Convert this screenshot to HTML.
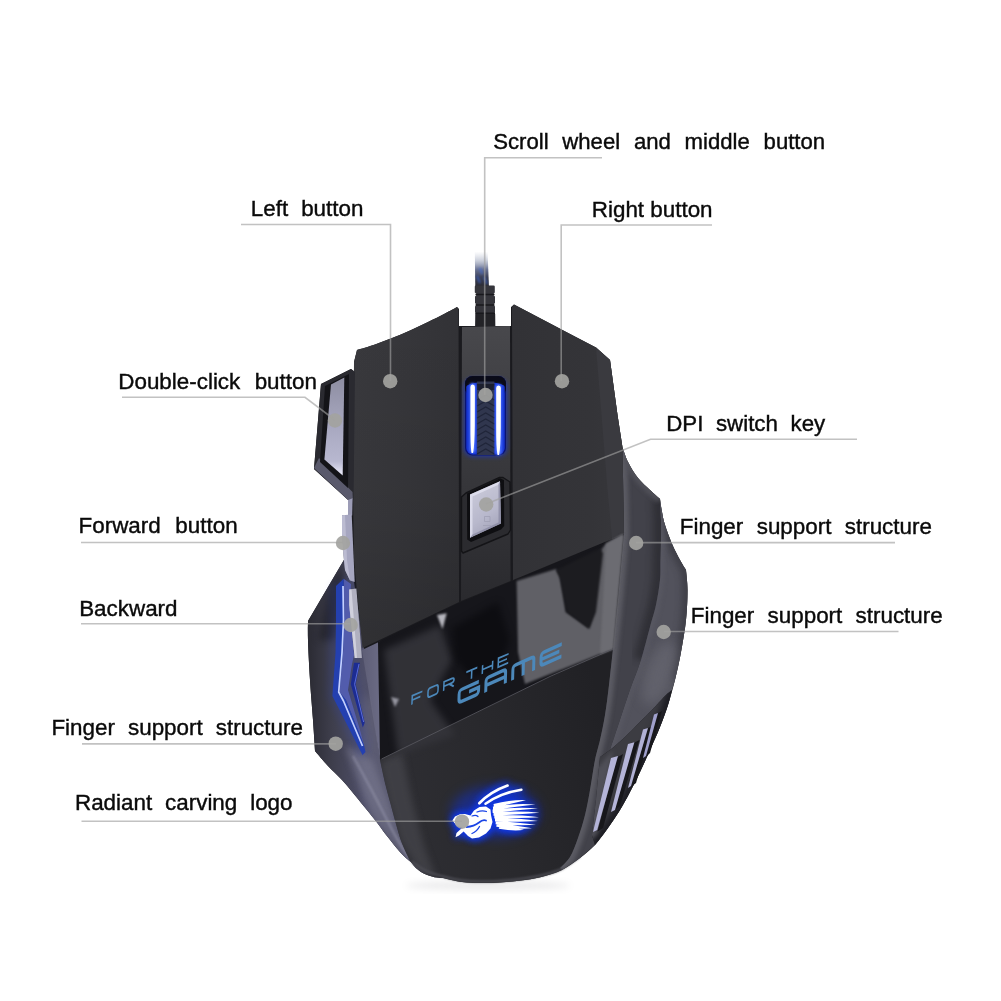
<!DOCTYPE html>
<html>
<head>
<meta charset="utf-8">
<title>Mouse</title>
<style>
html,body{margin:0;padding:0;background:#fff;}
body{width:1001px;height:1001px;overflow:hidden;position:relative;font-family:"Liberation Sans",sans-serif;}
svg{position:absolute;left:0;top:0;}
.lbl{font-family:"Liberation Sans",sans-serif;font-size:22.4px;fill:#0a0a0a;word-spacing:7.6px;stroke:#0a0a0a;stroke-width:0.4px;}
.ln{fill:none;stroke:#a0a0a0;stroke-width:1.6;opacity:0.64;}
.dot{fill:#a3a3a0;opacity:0.92;}
</style>
</head>
<body>
<svg width="1001" height="1001" viewBox="0 0 1001 1001">
<defs>
<filter color-interpolation-filters="sRGB" id="soft" x="-5%" y="-5%" width="110%" height="110%"><feGaussianBlur stdDeviation="0.6"/></filter>
<filter color-interpolation-filters="sRGB" id="tsoft" x="-2%" y="-20%" width="104%" height="140%"><feGaussianBlur stdDeviation="0.3"/></filter>
<filter color-interpolation-filters="sRGB" id="b1" x="-40%" y="-40%" width="180%" height="180%"><feGaussianBlur stdDeviation="1"/></filter>
<filter color-interpolation-filters="sRGB" id="b2" x="-40%" y="-40%" width="180%" height="180%"><feGaussianBlur stdDeviation="2"/></filter>
<filter color-interpolation-filters="sRGB" id="b3" x="-40%" y="-40%" width="180%" height="180%"><feGaussianBlur stdDeviation="3.5"/></filter>
<filter color-interpolation-filters="sRGB" id="b6" x="-40%" y="-40%" width="180%" height="180%"><feGaussianBlur stdDeviation="6"/></filter>
<linearGradient id="gCable" x1="0" y1="250" x2="0" y2="330" gradientUnits="userSpaceOnUse">
<stop offset="0.02" stop-color="#a0a8c0" stop-opacity="0"/><stop offset="0.13" stop-color="#8c96b0" stop-opacity="0.45"/><stop offset="0.24" stop-color="#5a6488" stop-opacity="0.9"/><stop offset="0.34" stop-color="#3c4056"/><stop offset="0.45" stop-color="#2c2c34"/><stop offset="1" stop-color="#222228"/>
</linearGradient>
<linearGradient id="gLeftBtn" x1="354" y1="0" x2="460" y2="0" gradientUnits="userSpaceOnUse">
<stop offset="0" stop-color="#39393d"/><stop offset="0.5" stop-color="#36363a"/><stop offset="1" stop-color="#323236"/>
</linearGradient>
<linearGradient id="gLeftBtnV" x1="0" y1="310" x2="0" y2="650" gradientUnits="userSpaceOnUse">
<stop offset="0" stop-color="#000" stop-opacity="0"/><stop offset="0.6" stop-color="#000" stop-opacity="0.05"/><stop offset="1" stop-color="#000" stop-opacity="0.16"/>
</linearGradient>
<linearGradient id="gRightBtn" x1="512" y1="0" x2="625" y2="0" gradientUnits="userSpaceOnUse">
<stop offset="0" stop-color="#323236"/><stop offset="0.7" stop-color="#343438"/><stop offset="1" stop-color="#37373b"/>
</linearGradient>
<linearGradient id="gMid" x1="0" y1="326" x2="0" y2="600" gradientUnits="userSpaceOnUse">
<stop offset="0" stop-color="#48484c"/><stop offset="0.3" stop-color="#3e3e42"/><stop offset="1" stop-color="#2a2a2e"/>
</linearGradient>
<linearGradient id="gSilver" x1="0" y1="378" x2="0" y2="476" gradientUnits="userSpaceOnUse">
<stop offset="0" stop-color="#8e8ea2"/><stop offset="0.5" stop-color="#a8a8c0"/><stop offset="0.85" stop-color="#b8b8d0"/><stop offset="1" stop-color="#f0f0ff"/>
</linearGradient>
<linearGradient id="gDpi" x1="470" y1="494" x2="501" y2="538" gradientUnits="userSpaceOnUse">
<stop offset="0" stop-color="#c8c8d8"/><stop offset="0.5" stop-color="#b8b8cc"/><stop offset="1" stop-color="#9a9ab0"/>
</linearGradient>
<linearGradient id="gLeftBody" x1="307" y1="0" x2="390" y2="0" gradientUnits="userSpaceOnUse">
<stop offset="0" stop-color="#2a2a32"/><stop offset="0.3" stop-color="#3e3e4c"/><stop offset="0.7" stop-color="#50506a"/><stop offset="1" stop-color="#44445a"/>
</linearGradient>
<linearGradient id="gFacet" x1="362" y1="0" x2="398" y2="0" gradientUnits="userSpaceOnUse">
<stop offset="0" stop-color="#5e5e76"/><stop offset="0.55" stop-color="#6c6c86"/><stop offset="0.85" stop-color="#50505e"/><stop offset="1" stop-color="#2a2a34"/>
</linearGradient>
<linearGradient id="gFs1" x1="620" y1="0" x2="665" y2="0" gradientUnits="userSpaceOnUse">
<stop offset="0" stop-color="#4a4a52"/><stop offset="0.5" stop-color="#55555e"/><stop offset="1" stop-color="#3a3a42"/>
</linearGradient>
<linearGradient id="gFs2" x1="655" y1="0" x2="690" y2="0" gradientUnits="userSpaceOnUse">
<stop offset="0" stop-color="#4a4a54"/><stop offset="0.6" stop-color="#64646e"/><stop offset="1" stop-color="#505058"/>
</linearGradient>
<linearGradient id="gPalm" x1="380" y1="760" x2="600" y2="700" gradientUnits="userSpaceOnUse">
<stop offset="0" stop-color="#2e2e33"/><stop offset="0.45" stop-color="#29292d"/><stop offset="1" stop-color="#212125"/>
</linearGradient>
<linearGradient id="gStripe" x1="0" y1="0" x2="1" y2="0">
<stop offset="0" stop-color="#6a6ac0"/><stop offset="0.5" stop-color="#e0e0f8"/><stop offset="1" stop-color="#8080c8"/>
</linearGradient>
<filter color-interpolation-filters="sRGB" id="glow" x="-40%" y="-60%" width="180%" height="220%">
<feGaussianBlur in="SourceAlpha" stdDeviation="4" result="b"/>
<feFlood flood-color="#1038e8"/><feComposite in2="b" operator="in" result="g"/>
<feMerge><feMergeNode in="g"/><feMergeNode in="g"/><feMergeNode in="g"/><feMergeNode in="SourceGraphic"/></feMerge>
</filter>
</defs>

<rect width="1001" height="1001" fill="#fff"/>

<!-- shadow -->
<ellipse cx="488" cy="885.5" rx="82" ry="4.5" fill="#808088" opacity="0.16" filter="url(#b3)"/>
<!-- ================= MOUSE ================= -->
<g id="mouse" filter="url(#soft)">
<!-- cable -->
<path d="M474.8 250 L487.5 250 L489 288 L475.3 288 Z" fill="url(#gCable)" filter="url(#tsoft)"/>
<path d="M477 276 L480 283 M484 277 L487 284 M480 268 L482 274" stroke="#3a6ae0" stroke-width="2" opacity="0.6" filter="url(#b1)" fill="none"/>
<path fill="#35353b" d="M474.8 286.5 Q474.8 285.5 476 285.5 L493.5 285.5 Q494.8 285.5 494.8 286.5 L494.8 292.5 L493.8 293.5 L493.8 295.5 L495 296.5 L495 303 L494 304 L494 305.5 L495 306.5 L495 312 L494.6 313 L495.2 314 L495.4 327 L475 327 L475.2 314 L475.6 313 L475 312 L475 306.5 L476 305.5 L476 304 L475 303 L475 296.5 L476.2 295.5 L476.2 293.5 L474.8 292.5 Z"/>
<path d="M475.5 294.5 H494.5 M475.5 305 H494.5 M475.5 313.2 H495" stroke="#18181c" stroke-width="1.6" fill="none"/>
<rect x="476" y="314" width="19" height="13" fill="#232327"/>
<path d="M483 313.5 h4" stroke="#2a50c0" stroke-width="2" opacity="0.8" filter="url(#b1)"/>
<!-- base silhouette -->
<path id="sil" fill="#1a1a1e" d="M357.0 350.0 C360.0 349.1 369.2 346.5 375.0 344.5 C380.8 342.5 386.2 340.3 392.0 338.0 C397.8 335.7 404.0 333.2 410.0 330.5 C416.0 327.8 422.2 324.8 428.0 322.0 C433.8 319.2 440.2 316.0 445.0 313.5 C449.8 311.0 455.0 308.1 457.0 307.0 L459 309 L459 326 L511 326 L511 307 L514 304.5 L596 347.5 L610 360 L617.5 415 L622.5 447.5 C623.4 449.9 625.4 456.9 628.0 462.0 C630.6 467.1 634.3 473.3 638.0 478.0 C641.7 482.7 646.3 486.5 650.0 490.0 C653.7 493.5 658.3 497.5 660.0 499.0 C660.3 501.2 661.2 507.7 662.0 512.0 C662.8 516.3 663.2 519.5 665.0 525.0 C666.8 530.5 670.0 539.2 672.5 545.0 C675.0 550.8 677.8 555.8 680.0 560.0 C682.2 564.2 685.0 568.3 686.0 570.0 C686.2 573.3 687.5 581.7 687.5 590.0 C687.5 598.3 687.1 609.7 686.0 620.0 C684.9 630.3 682.8 642.0 681.0 652.0 C679.2 662.0 677.2 671.2 675.0 680.0 C672.8 688.8 670.5 697.2 668.0 705.0 C665.5 712.8 663.0 719.5 660.0 727.0 C657.0 734.5 653.3 742.5 650.0 750.0 C646.7 757.5 643.3 765.0 640.0 772.0 C636.7 779.0 633.3 785.7 630.0 792.0 C626.7 798.3 623.7 804.0 620.0 810.0 C616.3 816.0 612.2 822.2 608.0 828.0 C603.8 833.8 599.7 840.0 595.0 845.0 C590.3 850.0 585.5 853.8 580.0 858.0 C574.5 862.2 567.8 867.0 562.0 870.0 C556.2 873.0 551.2 874.3 545.0 876.0 C538.8 877.7 532.5 878.9 525.0 880.0 C517.5 881.1 507.5 882.0 500.0 882.5 C492.5 883.0 486.3 883.1 480.0 883.0 C473.7 882.9 468.2 882.8 462.0 882.0 C455.8 881.2 449.2 879.7 443.0 878.0 C436.8 876.3 430.2 874.5 425.0 872.0 C419.8 869.5 416.2 866.3 412.0 863.0 C407.8 859.7 404.2 856.5 400.0 852.0 C395.8 847.5 391.2 841.3 387.0 836.0 C382.8 830.7 379.8 826.2 375.0 820.0 C370.2 813.8 363.5 805.7 358.0 799.0 C352.5 792.3 347.0 785.5 342.0 780.0 C337.0 774.5 332.5 770.8 328.0 766.0 C323.5 761.2 317.2 753.5 315.0 751.0 C314.7 745.8 313.8 731.8 313.0 720.0 C312.2 708.2 310.8 693.3 310.0 680.0 C309.2 666.7 308.3 649.8 308.0 640.0 C307.7 630.2 308.0 624.2 308.0 621.0 L344 560 L342.5 534 L342 515.5 L348 515 L348 500 L314 469 L321 384 L351 369 L355 372 L354 362 Z"/>

<!-- left side body -->
<path fill="url(#gLeftBody)" d="M345 558 L308 621 C308.0 624.2 307.7 630.2 308.0 640.0 C308.3 649.8 309.2 666.7 310.0 680.0 C310.8 693.3 312.2 708.2 313.0 720.0 C313.8 731.8 314.7 745.8 315.0 751.0 C317.2 753.5 323.5 761.2 328.0 766.0 C332.5 770.8 337.0 774.5 342.0 780.0 C347.0 785.5 352.5 792.3 358.0 799.0 C363.5 805.7 370.2 813.8 375.0 820.0 C379.8 826.2 382.8 830.7 387.0 836.0 C391.2 841.3 395.8 847.5 400.0 852.0 C404.2 856.5 407.8 859.7 412.0 863.0 C416.2 866.3 419.8 869.5 425.0 872.0 C430.2 874.5 440.0 877.0 443.0 878.0 L440 878 C438.7 877.8 435.2 877.5 432.0 876.5 C428.8 875.5 424.5 874.4 421.0 872.0 C417.5 869.6 414.2 866.8 411.0 862.0 C407.8 857.2 404.5 849.8 402.0 843.5 C399.5 837.2 397.9 830.5 396.0 824.0 C394.1 817.5 392.4 811.0 390.7 804.5 C388.9 798.0 387.3 792.4 385.5 785.0 C383.7 777.6 380.9 764.2 380.0 760.0 L364 648 L354 582 Z"/>
<!-- facet between LED and glossy -->
<path fill="url(#gFacet)" d="M362 650 L381 641 L398 746 L380 760 Z"/>
<!-- glossy panel -->
<path fill="#16161b" d="M378 642 L459 603 L513 581 L624 534 L618 600 L613 649 L550 677 L380 760 Z"/>
<!-- palm panel -->
<path fill="url(#gPalm)" d="M380 760 L550 677 L613 649 C612.3 655.0 610.3 674.0 609.0 685.0 C607.7 696.0 606.5 705.8 605.0 715.0 C603.5 724.2 601.7 732.5 600.0 740.0 C598.3 747.5 596.7 751.7 595.0 760.0 C593.3 768.3 591.7 780.8 590.0 790.0 C588.3 799.2 587.0 807.0 585.0 815.0 C583.0 823.0 580.5 831.0 578.0 838.0 C575.5 845.0 573.0 852.0 570.0 857.0 C567.0 862.0 561.7 866.2 560.0 868.0 L562 870 C559.2 871.0 551.2 874.3 545.0 876.0 C538.8 877.7 532.5 878.9 525.0 880.0 C517.5 881.1 507.5 882.0 500.0 882.5 C492.5 883.0 486.3 883.1 480.0 883.0 C473.7 882.9 468.2 882.8 462.0 882.0 C455.8 881.2 446.2 878.7 443.0 878.0 L440 878 C438.7 877.8 435.2 877.5 432.0 876.5 C428.8 875.5 424.5 874.4 421.0 872.0 C417.5 869.6 414.2 866.8 411.0 862.0 C407.8 857.2 404.5 849.8 402.0 843.5 C399.5 837.2 397.9 830.5 396.0 824.0 C394.1 817.5 392.4 811.0 390.7 804.5 C388.9 798.0 387.3 792.4 385.5 785.0 C383.7 777.6 380.9 764.2 380.0 760.0 Z"/>
<clipPath id="cPalm"><path d="M380 760 L550 677 L613 649 C612.3 655.0 610.3 674.0 609.0 685.0 C607.7 696.0 606.5 705.8 605.0 715.0 C603.5 724.2 601.7 732.5 600.0 740.0 C598.3 747.5 596.7 751.7 595.0 760.0 C593.3 768.3 591.7 780.8 590.0 790.0 C588.3 799.2 587.0 807.0 585.0 815.0 C583.0 823.0 580.5 831.0 578.0 838.0 C575.5 845.0 573.0 852.0 570.0 857.0 C567.0 862.0 561.7 866.2 560.0 868.0 L562 870 C559.2 871.0 551.2 874.3 545.0 876.0 C538.8 877.7 532.5 878.9 525.0 880.0 C517.5 881.1 507.5 882.0 500.0 882.5 C492.5 883.0 486.3 883.1 480.0 883.0 C473.7 882.9 468.2 882.8 462.0 882.0 C455.8 881.2 446.2 878.7 443.0 878.0 L440 878 C438.7 877.8 435.2 877.5 432.0 876.5 C428.8 875.5 424.5 874.4 421.0 872.0 C417.5 869.6 414.2 866.8 411.0 862.0 C407.8 857.2 404.5 849.8 402.0 843.5 C399.5 837.2 397.9 830.5 396.0 824.0 C394.1 817.5 392.4 811.0 390.7 804.5 C388.9 798.0 387.3 792.4 385.5 785.0 C383.7 777.6 380.9 764.2 380.0 760.0 Z"/></clipPath>
<g clip-path="url(#cPalm)"><path filter="url(#b3)" fill="#45454b" opacity="0.75" d="M380 762 L402 752 L412 800 L424 846 L436 878 L420 874 L400 840 L388 800 Z"/></g>
<path d="M580.0 856.4 C577.0 858.4 567.8 865.4 562.0 868.4 C556.2 871.4 551.2 872.7 545.0 874.4 C538.8 876.1 532.5 877.3 525.0 878.4 C517.5 879.5 507.5 880.4 500.0 880.9 C492.5 881.4 486.3 881.5 480.0 881.4 C473.7 881.3 468.2 881.2 462.0 880.4 C455.8 879.6 449.2 878.1 443.0 876.4 C436.8 874.7 430.2 872.9 425.0 870.4 C419.8 867.9 414.2 862.9 412.0 861.4" fill="none" stroke="#505058" stroke-width="2.2" opacity="0.85" filter="url(#b1)"/>
<!-- right finger support 1 -->
<clipPath id="cFs1"><path d="M622.5 447.5 C623.4 449.9 625.4 456.9 628.0 462.0 C630.6 467.1 634.3 473.3 638.0 478.0 C641.7 482.7 646.3 486.5 650.0 490.0 C653.7 493.5 658.3 497.5 660.0 499.0 C660.2 502.5 660.8 513.2 661.0 520.0 C661.2 526.8 661.1 533.3 661.0 540.0 C660.9 546.7 660.7 553.3 660.5 560.0 C660.3 566.7 660.8 572.5 660.0 580.0 C659.2 587.5 657.7 597.2 656.0 605.0 C654.3 612.8 652.5 617.8 650.0 627.0 C647.5 636.2 644.3 649.5 641.0 660.0 C637.7 670.5 633.5 680.0 630.0 690.0 C626.5 700.0 623.3 710.0 620.0 720.0 C616.7 730.0 611.7 745.0 610.0 750.0 L600 757 L596 800 L592 835 L595 845 L580 858 L562 870 L560 868 C561.7 866.2 567.0 862.0 570.0 857.0 C573.0 852.0 575.5 845.0 578.0 838.0 C580.5 831.0 583.0 823.0 585.0 815.0 C587.0 807.0 588.3 799.2 590.0 790.0 C591.7 780.8 593.3 768.3 595.0 760.0 C596.7 751.7 598.3 747.5 600.0 740.0 C601.7 732.5 603.5 724.2 605.0 715.0 C606.5 705.8 607.7 696.0 609.0 685.0 C610.3 674.0 612.3 655.0 613.0 649.0 L618 600 L624 534 Z"/></clipPath>
<clipPath id="cFs2"><path d="M660 499 C660.3 501.2 661.2 507.7 662.0 512.0 C662.8 516.3 663.2 519.5 665.0 525.0 C666.8 530.5 670.0 539.2 672.5 545.0 C675.0 550.8 677.8 555.8 680.0 560.0 C682.2 564.2 685.0 568.3 686.0 570.0 C686.2 573.3 687.5 581.7 687.5 590.0 C687.5 598.3 687.1 609.7 686.0 620.0 C684.9 630.3 682.8 642.0 681.0 652.0 C679.2 662.0 676.0 675.3 675.0 680.0 L672 690 C670.8 691.0 668.3 692.7 665.0 696.0 C661.7 699.3 656.2 705.7 652.0 710.0 C647.8 714.3 644.5 717.5 640.0 722.0 C635.5 726.5 630.0 732.3 625.0 737.0 C620.0 741.7 612.5 747.8 610.0 750.0 C611.7 745.0 616.7 730.0 620.0 720.0 C623.3 710.0 626.5 700.0 630.0 690.0 C633.5 680.0 637.7 670.5 641.0 660.0 C644.3 649.5 647.5 636.2 650.0 627.0 C652.5 617.8 654.3 612.8 656.0 605.0 C657.7 597.2 659.2 587.5 660.0 580.0 C660.8 572.5 660.3 566.7 660.5 560.0 C660.7 553.3 660.9 546.7 661.0 540.0 C661.1 533.3 661.2 526.8 661.0 520.0 C660.8 513.2 660.2 502.5 660.0 499.0 Z"/></clipPath>
<path fill="#42424a" d="M622.5 447.5 C623.4 449.9 625.4 456.9 628.0 462.0 C630.6 467.1 634.3 473.3 638.0 478.0 C641.7 482.7 646.3 486.5 650.0 490.0 C653.7 493.5 658.3 497.5 660.0 499.0 C660.2 502.5 660.8 513.2 661.0 520.0 C661.2 526.8 661.1 533.3 661.0 540.0 C660.9 546.7 660.7 553.3 660.5 560.0 C660.3 566.7 660.8 572.5 660.0 580.0 C659.2 587.5 657.7 597.2 656.0 605.0 C654.3 612.8 652.5 617.8 650.0 627.0 C647.5 636.2 644.3 649.5 641.0 660.0 C637.7 670.5 633.5 680.0 630.0 690.0 C626.5 700.0 623.3 710.0 620.0 720.0 C616.7 730.0 611.7 745.0 610.0 750.0 L600 757 L596 800 L592 835 L595 845 L580 858 L562 870 L560 868 C561.7 866.2 567.0 862.0 570.0 857.0 C573.0 852.0 575.5 845.0 578.0 838.0 C580.5 831.0 583.0 823.0 585.0 815.0 C587.0 807.0 588.3 799.2 590.0 790.0 C591.7 780.8 593.3 768.3 595.0 760.0 C596.7 751.7 598.3 747.5 600.0 740.0 C601.7 732.5 603.5 724.2 605.0 715.0 C606.5 705.8 607.7 696.0 609.0 685.0 C610.3 674.0 612.3 655.0 613.0 649.0 L618 600 L624 534 Z"/>
<g clip-path="url(#cFs1)">
<path d="M660.0 499.0 C660.2 502.5 660.8 513.2 661.0 520.0 C661.2 526.8 661.1 533.3 661.0 540.0 C660.9 546.7 660.7 553.3 660.5 560.0 C660.3 566.7 660.8 572.5 660.0 580.0 C659.2 587.5 657.7 597.2 656.0 605.0 C654.3 612.8 652.5 617.8 650.0 627.0 C647.5 636.2 642.5 654.5 641.0 660.0" fill="none" stroke="#2e2e34" stroke-width="16" filter="url(#b3)" opacity="0.9"/>
<path d="M622.5 447.5 L624 534 L618 600 L613 649 C612.3 655.0 610.3 674.0 609.0 685.0 C607.7 696.0 606.5 705.8 605.0 715.0 C603.5 724.2 601.7 732.5 600.0 740.0 C598.3 747.5 596.7 751.7 595.0 760.0 C593.3 768.3 591.7 780.8 590.0 790.0 C588.3 799.2 587.0 807.0 585.0 815.0 C583.0 823.0 580.5 831.0 578.0 838.0 C575.5 845.0 573.0 852.0 570.0 857.0 C567.0 862.0 561.7 866.2 560.0 868.0" fill="none" stroke="#5e5e66" stroke-width="10" filter="url(#b2)" opacity="0.9"/>
<path d="M622.5 447.5 C623.4 449.9 625.4 456.9 628.0 462.0 C630.6 467.1 634.3 473.3 638.0 478.0 C641.7 482.7 646.3 486.5 650.0 490.0 C653.7 493.5 658.3 497.5 660.0 499.0" fill="none" stroke="#54545c" stroke-width="8" filter="url(#b2)" opacity="0.8"/>
</g>
<!-- right finger support 2 -->
<path fill="#52525c" d="M660 499 C660.3 501.2 661.2 507.7 662.0 512.0 C662.8 516.3 663.2 519.5 665.0 525.0 C666.8 530.5 670.0 539.2 672.5 545.0 C675.0 550.8 677.8 555.8 680.0 560.0 C682.2 564.2 685.0 568.3 686.0 570.0 C686.2 573.3 687.5 581.7 687.5 590.0 C687.5 598.3 687.1 609.7 686.0 620.0 C684.9 630.3 682.8 642.0 681.0 652.0 C679.2 662.0 676.0 675.3 675.0 680.0 L672 690 C670.8 691.0 668.3 692.7 665.0 696.0 C661.7 699.3 656.2 705.7 652.0 710.0 C647.8 714.3 644.5 717.5 640.0 722.0 C635.5 726.5 630.0 732.3 625.0 737.0 C620.0 741.7 612.5 747.8 610.0 750.0 C611.7 745.0 616.7 730.0 620.0 720.0 C623.3 710.0 626.5 700.0 630.0 690.0 C633.5 680.0 637.7 670.5 641.0 660.0 C644.3 649.5 647.5 636.2 650.0 627.0 C652.5 617.8 654.3 612.8 656.0 605.0 C657.7 597.2 659.2 587.5 660.0 580.0 C660.8 572.5 660.3 566.7 660.5 560.0 C660.7 553.3 660.9 546.7 661.0 540.0 C661.1 533.3 661.2 526.8 661.0 520.0 C660.8 513.2 660.2 502.5 660.0 499.0 Z"/>
<g clip-path="url(#cFs2)">
<path d="M660.0 499.0 C660.3 501.2 661.2 507.7 662.0 512.0 C662.8 516.3 663.2 519.5 665.0 525.0 C666.8 530.5 670.0 539.2 672.5 545.0 C675.0 550.8 677.8 555.8 680.0 560.0 C682.2 564.2 685.0 568.3 686.0 570.0 C686.2 573.3 687.5 581.7 687.5 590.0 C687.5 598.3 687.1 609.7 686.0 620.0 C684.9 630.3 682.8 642.0 681.0 652.0 C679.2 662.0 676.0 675.3 675.0 680.0" fill="none" stroke="#3c3c44" stroke-width="10" filter="url(#b3)" opacity="0.9"/>
<path d="M660.0 499.0 C660.2 502.5 660.8 513.2 661.0 520.0 C661.2 526.8 661.1 533.3 661.0 540.0 C660.9 546.7 660.7 553.3 660.5 560.0 C660.3 566.7 660.8 572.5 660.0 580.0 C659.2 587.5 657.7 597.2 656.0 605.0 C654.3 612.8 652.5 617.8 650.0 627.0 C647.5 636.2 644.3 649.5 641.0 660.0 C637.7 670.5 633.5 680.0 630.0 690.0 C626.5 700.0 623.3 710.0 620.0 720.0 C616.7 730.0 611.7 745.0 610.0 750.0" fill="none" stroke="#5a5a64" stroke-width="8" filter="url(#b2)" opacity="0.7"/>
<ellipse cx="657" cy="672" rx="14" ry="34" fill="#686872" opacity="0.7" filter="url(#b6)" transform="rotate(20 655 680)"/>
</g>
<!-- stripe zone -->
<clipPath id="cStz"><path d="M672 690 C671.3 692.5 670.0 698.8 668.0 705.0 C666.0 711.2 663.0 719.5 660.0 727.0 C657.0 734.5 653.3 742.5 650.0 750.0 C646.7 757.5 643.3 765.0 640.0 772.0 C636.7 779.0 633.3 785.7 630.0 792.0 C626.7 798.3 623.7 804.0 620.0 810.0 C616.3 816.0 612.2 822.2 608.0 828.0 C603.8 833.8 597.2 842.2 595.0 845.0 L592 835 L596 800 L600 757 C601.7 755.8 605.8 753.3 610.0 750.0 C614.2 746.7 620.0 741.7 625.0 737.0 C630.0 732.3 635.5 726.5 640.0 722.0 C644.5 717.5 647.8 714.3 652.0 710.0 C656.2 705.7 661.7 699.3 665.0 696.0 C668.3 692.7 670.8 691.0 672.0 690.0 Z"/></clipPath>
<path fill="#3c3c42" d="M672 690 C671.3 692.5 670.0 698.8 668.0 705.0 C666.0 711.2 663.0 719.5 660.0 727.0 C657.0 734.5 653.3 742.5 650.0 750.0 C646.7 757.5 643.3 765.0 640.0 772.0 C636.7 779.0 633.3 785.7 630.0 792.0 C626.7 798.3 623.7 804.0 620.0 810.0 C616.3 816.0 612.2 822.2 608.0 828.0 C603.8 833.8 597.2 842.2 595.0 845.0 L592 835 L596 800 L600 757 C601.7 755.8 605.8 753.3 610.0 750.0 C614.2 746.7 620.0 741.7 625.0 737.0 C630.0 732.3 635.5 726.5 640.0 722.0 C644.5 717.5 647.8 714.3 652.0 710.0 C656.2 705.7 661.7 699.3 665.0 696.0 C668.3 692.7 670.8 691.0 672.0 690.0 Z"/>
<g clip-path="url(#cStz)">
<path d="M675.0 680.0 C673.8 684.2 670.5 697.2 668.0 705.0 C665.5 712.8 663.0 719.5 660.0 727.0 C657.0 734.5 653.3 742.5 650.0 750.0 C646.7 757.5 643.3 765.0 640.0 772.0 C636.7 779.0 633.3 785.7 630.0 792.0 C626.7 798.3 623.7 804.0 620.0 810.0 C616.3 816.0 612.2 822.2 608.0 828.0 C603.8 833.8 599.7 840.0 595.0 845.0 C590.3 850.0 585.5 853.8 580.0 858.0 C574.5 862.2 565.0 868.0 562.0 870.0" fill="none" stroke="#1c1c22" stroke-width="12" filter="url(#b3)"/>
<path fill="#505058" filter="url(#b2)" d="M594 772 L613 750 L597 834 L588 842 Z"/>
</g>
<g>
<path fill="#17171b" d="M617 757.5 L623 754 L603 828 L597.5 831.5 Z"/>
<path fill="#17171b" d="M633.5 743 L639.5 740 L620 806 L614.5 810.5 Z"/>
<path fill="#17171b" d="M647.5 728.5 L653 725.5 L636 783 L631 787 Z"/>
<path fill="#17171b" d="M657.5 713.5 L662 711 L650 753 L646 757 Z"/>
<path fill="#b4b4d8" d="M611 758 L618 756 L597.2 830 L593 832 Z"/>
<path fill="#b4b4d8" d="M628 744 L634.4 742.2 L615 810 L611 812 Z"/>
<path fill="#b0b0d4" d="M643 729.5 L648 728 L631 786 L628 788 Z"/>
<path fill="#a0a0cc" d="M654 714.5 L658 713 L646 756 L643 758 Z"/>
</g>
<!-- left button -->
<path fill="url(#gLeftBtn)" d="M357.0 350.0 C360.0 349.1 369.2 346.5 375.0 344.5 C380.8 342.5 386.2 340.3 392.0 338.0 C397.8 335.7 404.0 333.2 410.0 330.5 C416.0 327.8 422.2 324.8 428.0 322.0 C433.8 319.2 440.2 316.0 445.0 313.5 C449.8 311.0 455.0 308.1 457.0 307.0 L458.5 309 L459 602 L362.5 648 L354 560 L353 490 L354 362 Z"/>
<path fill="url(#gLeftBtnV)" d="M357.0 350.0 C360.0 349.1 369.2 346.5 375.0 344.5 C380.8 342.5 386.2 340.3 392.0 338.0 C397.8 335.7 404.0 333.2 410.0 330.5 C416.0 327.8 422.2 324.8 428.0 322.0 C433.8 319.2 440.2 316.0 445.0 313.5 C449.8 311.0 455.0 308.1 457.0 307.0 L458.5 309 L459 602 L362.5 648 L354 560 L353 490 L354 362 Z"/>
<!-- middle strip -->
<path fill="url(#gMid)" d="M462 327 L510 326 L510.5 581 L461 601 Z"/>
<!-- right button -->
<path fill="url(#gRightBtn)" d="M512 307 L514 304.5 L596 347.5 L610 360 L617.5 415 L622.5 447.5 L624 534 L513 580 Z"/>
<path fill="#3a3a3f" d="M596 347.5 L610 360 L617.5 415 L622.5 447.5 L624 534 L612 539 L607.5 490 Z"/>

<!-- glossy reflections -->
<g>
<path filter="url(#b3)" fill="#34343a" opacity="0.9" d="M384 650 L440 625 L452 660 L430 700 L455 735 L398 755 Z"/>
<path filter="url(#b3)" fill="#0b0b0f" opacity="0.8" d="M452 628 L498 602 L510 640 L500 668 L472 678 L455 660 Z"/>
<path filter="url(#b1)" fill="#606066" d="M516.6 581 L556 569 L560 576 L565.6 612 L589 628 L593.6 612 L596 556 L606 543.8 L623.5 534 L613 649 L525 684 L518 652 Z"/>
<path filter="url(#b1)" fill="#6c6c72" d="M606 543.8 L623.5 534 L613 649 L600 654 Z"/>
<path filter="url(#b1)" fill="#1c1c20" d="M556 570 L600.6 548 L603 553.6 L596 612 L589 629 L567 612 L560 578.7 Z"/>
<path filter="url(#b1)" fill="#c8c8d0" opacity="0.9" d="M437 615 L446.7 613.2 L442.5 629 Z"/>
<path filter="url(#b1)" fill="#b0b0bc" opacity="0.8" d="M391 697 L399 699 L395 707 Z"/>
<path fill="none" stroke="#5a5a62" stroke-width="1" opacity="0.8" d="M381.5 759 L550 676.5 L613 649"/>
</g>
<!-- FOR THE GAME -->
<g fill="none" stroke="#4c88ba" stroke-linejoin="miter" stroke-linecap="butt" filter="url(#tsoft)">
<g transform="translate(411,705) rotate(-23.5) skewX(-26)" stroke-width="1.7">
<path transform="translate(0.0,0)" d="M12,-8 H1 V0 M1,-4 H10"/>
<path transform="translate(17.3,0)" d="M3.5,-8 H9.5 Q12,-8 12,-5.5 V-2.5 Q12,0 9.5,0 H3.5 Q1,0 1,-2.5 V-5.5 Q1,-8 3.5,-8 Z"/>
<path transform="translate(34.6,0)" d="M1,0 V-8 H9.5 Q12,-8 12,-6 Q12,-4 9.5,-4 H1 M7,-4 L12,0"/>
<path transform="translate(59.4,0)" d="M0.5,-8 H12.5 M6.5,-8 V0"/>
<path transform="translate(76.7,0)" d="M1,-8 V0 M12,-8 V0 M1,-4 H12"/>
<path transform="translate(94.0,0)" d="M12,-8 H1 V0 H12 M1,-4 H10.5"/>
</g>
<g transform="translate(457.5,703.3) rotate(-24.3) skewX(-26)" stroke-width="3.3">
<path transform="translate(0.0,0)" d="M23,-11 H4.5 Q1.5,-11 1.5,-8 V-3 Q1.5,0 4.5,0 H20 Q23,0 23,-3 V-5.8 H12.5"/>
<path transform="translate(29.5,0)" d="M1.5,1.5 V-8 Q1.5,-11 4.5,-11 H20 Q23,-11 23,-8 V1.5 M1.5,-4.6 H23"/>
<path transform="translate(59.0,0)" d="M1.5,1.5 V-8 Q1.5,-11 4.5,-11 H21.5 Q24.5,-11 24.5,-8 V1.5 M13,-11 V1.5"/>
<path transform="translate(90.0,0)" d="M24,-11 H4.5 Q1.5,-11 1.5,-8 V-3 Q1.5,0 4.5,0 H24 M1.5,-5.5 H21.5"/>
</g>
</g>
<!-- dragon logo -->
<g>
<ellipse cx="495" cy="812" rx="44" ry="26" fill="#1030d0" opacity="0.5" filter="url(#b6)"/>
<g filter="url(#glow)" fill="none" stroke="#fff" stroke-linecap="round">
<path stroke-width="2.7" d="M479.3 803.2 Q491 791.5 507.6 785.6"/>
<path stroke-width="2.5" d="M485.5 803.8 Q500 793 521.4 789.7"/>
<path stroke="none" fill="#fff" d="M493.5 804.1 Q512.8 799.4 526.0 800.2 Q513.4 803.1 494.1 807.5 Z M492.9 806.6 Q518.3 802.6 535.5 804.6 Q518.7 806.4 493.1 810.0 Z M492.5 809.5 Q519.7 806.4 538.0 808.6 Q519.9 810.1 492.7 812.9 Z M493.5 812.3 Q521.1 810.4 539.5 812.8 Q521.1 814.2 493.5 815.7 Z M494.3 815.1 Q521.1 814.6 539.0 817.3 Q521.1 818.4 494.3 818.5 Z M495.0 818.1 Q520.9 818.3 538.0 821.0 Q520.7 822.1 495.0 821.5 Z M495.8 820.9 Q520.0 822.2 536.0 824.8 Q519.8 826.0 495.6 824.3 Z M496.7 823.3 Q518.0 825.7 532.0 828.3 Q517.6 829.5 496.3 826.7 Z M499.2 825.3 Q514.2 827.6 524.0 829.8 Q513.8 831.4 498.8 828.7 Z"/>
<path stroke="none" fill="#fff" d="M452.4 820.5 L455 816.5 L460 814.2 L465 814 L470.5 815.5 L474 810.5 L479.5 807 L486 806.5 L490.5 809.5 L491 815 L492.5 822 L490.5 828.5 L486 833.5 L479 837.5 L472 838.6 L468 836 L463.6 831.5 L459 835.5 L455.5 837.2 L456.5 833 L462.5 827.5 L457 826 Z"/>
</g>
<g fill="none" stroke="#1a44e6" stroke-linecap="round" filter="url(#tsoft)">
<path stroke-width="1.3" d="M477 812 Q482 810 486.5 811.5"/>
<path stroke-width="1.8" d="M466.5 827 Q474 826.5 479 822.5 Q483 819 486 820.5"/>
<path stroke-width="1.3" d="M479.5 826.5 Q477 831.5 472 833.5"/>
<path stroke-width="1.2" d="M472 816 Q476 814.5 478 816.5"/>
</g>
</g>
<!-- double-click button -->
<path fill="#2a2a30" d="M321 384 L351 369 L355 372 L353.5 500 L349.5 500.8 L314 469 Z"/>
<path fill="#5a5a6c" d="M314 468 L349 500.8 L352.8 498.5 L352.5 492 L319 458 Z"/>
<path fill="#9c9cb6" d="M348 500 L352.6 498.3 L352.2 515.5 L348 515.5 Z"/>
<path fill="#141418" d="M325 386 L349 374 L348 488 L320 462 Z"/>
<path fill="url(#gSilver)" d="M331 384.5 L344.3 377.5 L342.7 475.5 L324.4 459.5 Z"/>
<!-- left body extra shading -->
<clipPath id="cLb"><path d="M345 558 L308 621 C308.0 624.2 307.7 630.2 308.0 640.0 C308.3 649.8 309.2 666.7 310.0 680.0 C310.8 693.3 312.2 708.2 313.0 720.0 C313.8 731.8 314.7 745.8 315.0 751.0 C317.2 753.5 323.5 761.2 328.0 766.0 C332.5 770.8 337.0 774.5 342.0 780.0 C347.0 785.5 352.5 792.3 358.0 799.0 C363.5 805.7 370.2 813.8 375.0 820.0 C379.8 826.2 382.8 830.7 387.0 836.0 C391.2 841.3 395.8 847.5 400.0 852.0 C404.2 856.5 407.8 859.7 412.0 863.0 C416.2 866.3 419.8 869.5 425.0 872.0 C430.2 874.5 440.0 877.0 443.0 878.0 L440 878 C438.7 877.8 435.2 877.5 432.0 876.5 C428.8 875.5 424.5 874.4 421.0 872.0 C417.5 869.6 414.2 866.8 411.0 862.0 C407.8 857.2 404.5 849.8 402.0 843.5 C399.5 837.2 397.9 830.5 396.0 824.0 C394.1 817.5 392.4 811.0 390.7 804.5 C388.9 798.0 387.3 792.4 385.5 785.0 C383.7 777.6 380.9 764.2 380.0 760.0 L364 648 L354 582 Z"/></clipPath>
<g clip-path="url(#cLb)">
<path filter="url(#b6)" fill="#6a6a80" opacity="0.55" d="M362 700 L384 690 L400 760 L396 830 L372 800 L364 760 Z"/>
<path filter="url(#b3)" fill="#7c7c92" opacity="0.6" d="M345 745 L372 760 L390 805 L412 858 L425 874 L400 855 L372 818 Z"/>
<path filter="url(#b1)" fill="none" stroke="#a0a0b6" stroke-width="2.4" opacity="0.45" d="M353 756 Q372 790 386 818 Q398 842 409 858"/>
</g>
<g clip-path="url(#cLb)"><path filter="url(#b3)" fill="#1c1c22" opacity="0.6" d="M330 582 L343 562 L344 600 L334 640 L318 640 Z"/></g>
<!-- blue led -->
<path filter="url(#b3)" fill="#2848e0" opacity="0.14" d="M330 585 L352 578 L356 660 L368 750 L360 758 L328 698 Z"/>
<path fill="#5660b8" opacity="0.85" d="M343.6 578.8 L351 584 L349.5 605 L354 655 L352 664 L348 690 L360 730 L364 745 L346 700 L339.5 692 L343 653 L344.5 620 Z"/>
<path fill="#2440b0" d="M336 586 L343.6 578.8 L344.5 620 L343 653 L339.5 692 L346 700 L364 745 L365.5 752 L362.5 755 L332.4 696 L335.5 653 L336 620 Z"/>
<path fill="none" stroke="#c4d0ff" stroke-width="1.7" stroke-linejoin="round" d="M343 586 L343.5 620 L342 653 L338.7 692 L343.5 701 L362.5 746"/>
<path fill="#1c2c92" d="M354 662.7 L360 662.7 L355.6 684.3 L364.7 722.7 L362.8 727.5 L350.8 684.3 Z"/>
<path fill="none" stroke="#5a6cd8" stroke-width="1" d="M359 664 L354.6 684.3 L363.6 722"/>
<!-- forward / backward silver -->
<path fill="#a6a6c0" d="M342 515.3 L351.7 514.5 L354.7 582 L350 580.4 L345 570 L343.5 555 L342 534 Z"/>
<path fill="#c4c4d8" opacity="0.7" d="M342 515.3 L345 515 L347 560 L350 580.4 L345 570 L343.5 555 L342 534 Z"/>
<path fill="#b0b0c0" d="M349.2 589.6 L356.4 588.4 L361.9 658 L354.7 658 L349.2 605 Z"/>
<path fill="#d8d8e4" opacity="0.8" d="M349.2 589.6 L351.5 589.2 L357 658 L354.7 658 L349.2 605 Z"/>
<!-- wheel window -->
<rect x="463.5" y="378" width="44" height="79" rx="9" fill="#1838e0" opacity="0.55" filter="url(#b2)"/>
<rect x="465" y="376" width="41" height="79.5" rx="7.5" fill="#0b1470"/>
<rect x="465" y="376" width="41" height="20" rx="7.5" fill="#0a0b1c"/>
<rect x="466.3" y="381" width="38.4" height="73.5" rx="6.5" fill="#1634d2"/>
<path d="M466 385 Q466 377 474 377 L497 377 Q505 377 505 385 L505 386 Q498 382 485.5 382 Q473 382 466 386 Z" fill="#0a0b18"/>
<rect x="476.8" y="381.5" width="17.6" height="73.5" fill="#30364e"/>
<path d="M477 384 h17.4 v6 h-17.4z" fill="#181a26" opacity="0.8"/>
<g stroke="#1c2033" stroke-width="1.1" fill="none" opacity="0.8">
<path d="M477 400 l8.7 -5 l8.7 5 M477 406 l8.7 -5 l8.7 5 M477 412 l8.7 -5 l8.7 5 M477 418 l8.7 -5 l8.7 5 M477 424 l8.7 -5 l8.7 5 M477 430 l8.7 -5 l8.7 5 M477 436 l8.7 -5 l8.7 5 M477 442 l8.7 -5 l8.7 5 M477 448 l8.7 -5 l8.7 5 M477 454 l8.7 -5 l8.7 5"/>
</g>
<rect x="469.4" y="383" width="6.4" height="70" rx="3.2" fill="#4a70ff" filter="url(#b1)"/>
<rect x="495.2" y="384" width="6.6" height="71" rx="3.3" fill="#4a70ff" filter="url(#b1)"/>
<path fill="#fff" d="M470.4 387 Q470.4 384.5 472.6 384.5 Q474.9 384.5 474.9 387 L474.8 425 Q474.6 445 473.2 452.5 Q472.2 453.5 471.4 452.5 Q470.3 445 470.4 425 Z"/>
<path fill="#fff" d="M496.2 388 Q496.2 385.5 498.5 385.5 Q500.9 385.5 500.9 388 L500.8 427 Q500.6 447 499.2 454.5 Q498.2 455.5 497.4 454.5 Q496.1 447 496.2 427 Z"/>
<!-- DPI button -->
<path fill="#2b2b2f" stroke="#141417" stroke-width="1.4" stroke-linejoin="round" d="M461.5 497 L466 493 L499.5 477.5 L503 477.5 L510 482 L510.5 530 L508 534 L463 553 L461.5 551 Z"/>
<path fill="#0e0e11" d="M467 493.5 L500 478.3 L504 480 L504.2 526 L501 529.5 L471 542 L467.2 539.5 Z"/>
<path fill="url(#gDpi)" d="M470 494.5 L500 481.2 L501 523.5 L470 537.8 Z"/>
<path fill="#e6e6f4" opacity="0.7" d="M470 494.5 L500 481.2 L500.1 484 L472.5 496.5 L472.5 536.5 L470 537.8 Z"/>
<path fill="#8a8aa2" opacity="0.8" d="M501 523.5 L470 537.8 L472.5 534.5 L498.5 522.5 L498.5 484 L500 481.2 Z"/>
<path d="M484.5 516.5 h5.5 v5 h-5.5z M483 525.5 h8" stroke="#a0a0b4" stroke-width="0.8" fill="none"/>
</g>

<!-- ================= LABELS ================= -->
<g id="labels">
<path class="ln" d="M241 224.5 H390.5 V381"/>
<path class="ln" d="M602 157.8 H484.7 V395"/>
<path class="ln" d="M712 225 H561.2 V381"/>
<path class="ln" d="M122 397.3 H305 L335 420"/>
<path class="ln" d="M857 439.2 H650.5 L486 504"/>
<path class="ln" d="M81 542.5 H343"/>
<path class="ln" d="M81 623.7 H350"/>
<path class="ln" d="M82 743.9 H336"/>
<path class="ln" d="M81.5 821.2 H462"/>
<path class="ln" d="M636 542.6 H895"/>
<path class="ln" d="M664 631.5 H898.5"/>
<circle class="dot" cx="390.2" cy="381.2" r="7.2"/>
<circle class="dot" cx="485.5" cy="395" r="7.2"/>
<circle class="dot" cx="562" cy="381.2" r="7.2"/>
<circle class="dot" cx="335" cy="420.5" r="7.2"/>
<circle class="dot" cx="486.2" cy="504.5" r="7.2"/>
<circle class="dot" cx="343" cy="543" r="7.2"/>
<circle class="dot" cx="350.7" cy="625" r="7.2"/>
<circle class="dot" cx="335.7" cy="743.7" r="7.2"/>
<circle class="dot" cx="462" cy="821.7" r="7.2"/>
<circle class="dot" cx="636.2" cy="543" r="7.2"/>
<circle class="dot" cx="663.7" cy="632" r="7.2"/>
<g filter="url(#tsoft)">
<text class="lbl" x="493.2" y="148.5" style="font-size:22.15px;word-spacing:7.6px">Scroll wheel and middle button</text>
<text class="lbl" x="250.8" y="216" style="word-spacing:6.8px">Left button</text>
<text class="lbl" x="591.8" y="216.8" style="word-spacing:0">Right button</text>
<text class="lbl" x="118.3" y="389" style="word-spacing:8.2px">Double-click button</text>
<text class="lbl" x="666.2" y="430.6" style="font-size:22.3px;word-spacing:6.4px">DPI switch key</text>
<text class="lbl" x="78.6" y="533.2" style="word-spacing:8.4px">Forward button</text>
<text class="lbl" x="79.2" y="616.2">Backward</text>
<text class="lbl" x="51.4" y="735" style="word-spacing:6.9px">Finger support structure</text>
<text class="lbl" x="75" y="810" style="word-spacing:6.7px">Radiant carving logo</text>
<text class="lbl" x="679.8" y="533.8" style="word-spacing:7.2px">Finger support structure</text>
<text class="lbl" x="690.8" y="623" style="word-spacing:7.1px">Finger support structure</text>
</g>
</g>

</svg>
</body>
</html>
